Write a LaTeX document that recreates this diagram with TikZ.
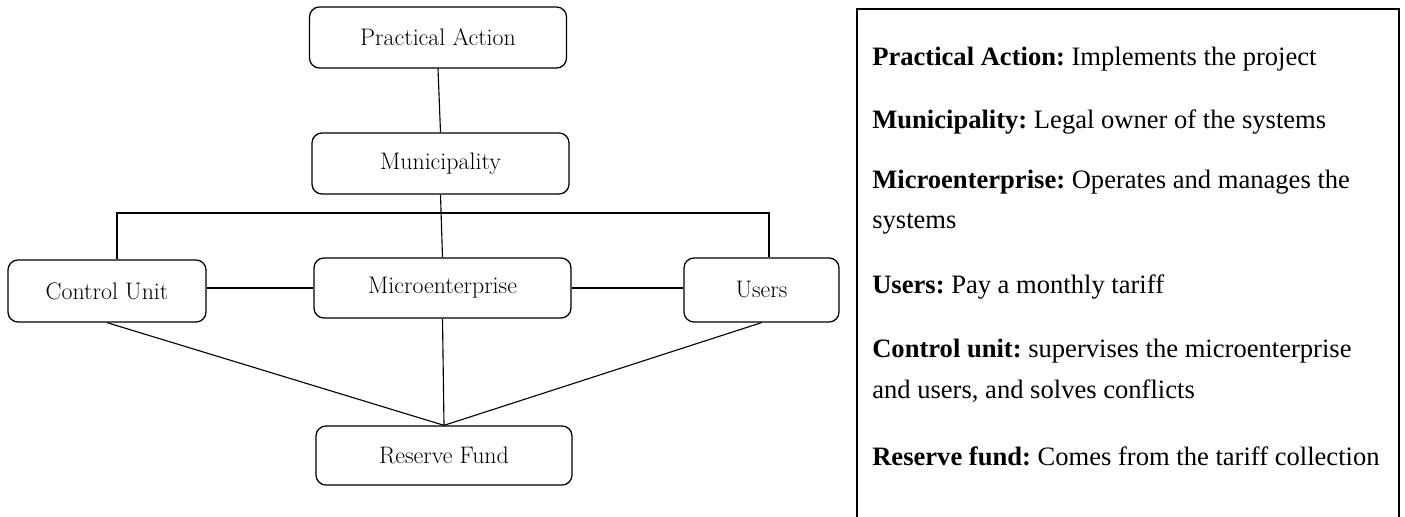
\documentclass[tikz,border=0pt]{standalone}
\usepackage{fontspec}
\newfontfamily\legendfont{Liberation Serif}
\frenchspacing

\begin{document}
\begin{tikzpicture}[x=0.025cm, y=-0.025cm,
    actor/.style={draw, line width=0.9pt, rounded corners=0.25cm, inner sep=0pt,
      minimum width=6.425cm, minimum height=1.525cm, font=\fontsize{17}{20}\selectfont},
    link/.style={line width=0.8pt},
    legend/.style={anchor=base west, align=left, inner sep=0pt,
      font=\legendfont\fontsize{18.9}{28.45}\selectfont}]
                  \useasboundingbox (0,0) rectangle (1405,517);

                  % organisation chart
                  \node[actor] (pa) at (438, 37.5) {Practical Action};
                  \node[actor] (muni) at (440.5, 163.5) {Municipality};
                  \node[actor, minimum width=4.95cm, minimum height=1.55cm] (cu) at (107, 291) {Control Unit};
                  \node[actor, minimum height=1.5cm] (me) at (442.5, 288) {Microenterprise};
                  \node[actor, minimum width=3.875cm, minimum height=1.6cm] (us) at (761.5, 290) {Users};
                  \node[actor, minimum width=6.4cm, minimum height=1.475cm] (rf) at (444, 455.5) {Reserve Fund};

                  \coordinate (busl) at (117, 213);
                  \coordinate (busr) at (769, 213);

                  \draw[link] (pa.south) -- (muni.north);
                  \draw[link] (muni.south) -- (me.north);
                  \draw[link] (cu.north -| busl) -- (busl) -- (busr) -- (us.north -| busr);
                  \draw[link] (me.west) -- (me.west -| cu.east);
                  \draw[link] (me.east) -- (me.east -| us.west);
                  \draw[link] (cu.south) -- (rf.north);
                  \draw[link] (me.south) -- (rf.north);
                  \draw[link] (us.south) -- (rf.north);

                  % legend (two-line entries sit on their last line)
                  \draw[line width=1.8pt] (857, 520) -- (857, 9) -- (1399, 9) -- (1399, 520);
                  \node[legend] (lpa) at (872, 66) {\textbf{Practical Action:} Implements the project};
                  \node[legend] (lmuni) at (872, 129) {\textbf{Municipality:} Legal owner of the systems};
                  \node[legend] (lme) at (872, 229) {\textbf{Microenterprise:} Operates and manages the\\systems};
                  \node[legend] (lus) at (872, 294) {\textbf{Users:} Pay a monthly tariff};
                  \node[legend] (lcu) at (872, 398) {\textbf{Control unit:} supervises the microenterprise\\and users, and solves conflicts};
                  \node[legend] (lrf) at (872, 465) {\textbf{Reserve fund:} Comes from the tariff collection};
              \end{tikzpicture}
\end{document}
